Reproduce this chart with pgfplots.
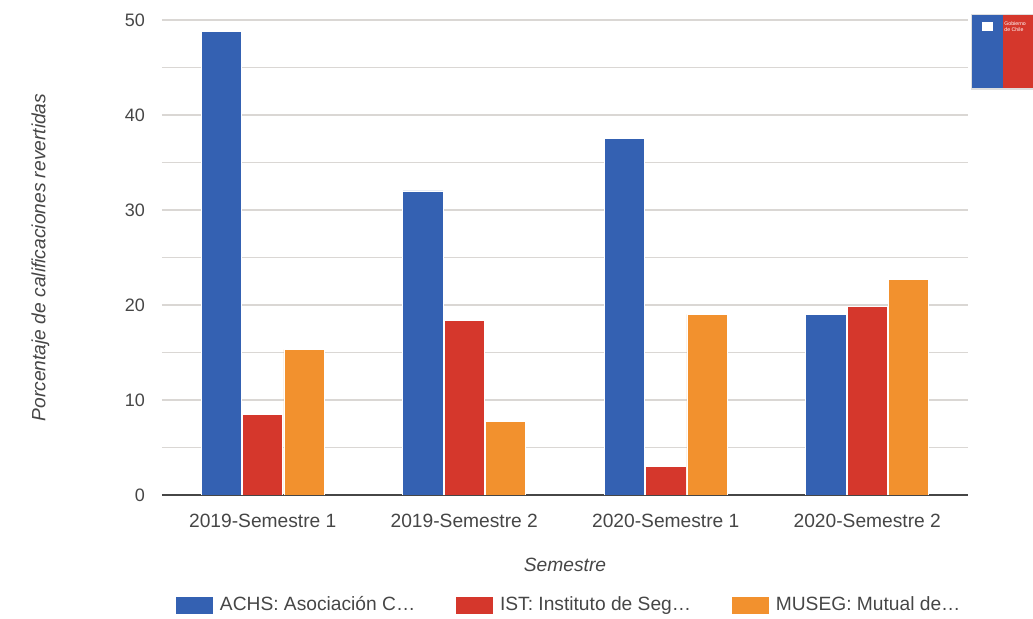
\documentclass[border=0pt]{standalone}
\usepackage{fontspec}
\setmainfont{Liberation Sans}
\usepackage{pgfplots}
\pgfplotsset{compat=1.18}

\definecolor{achs}{RGB}{52,97,178}
\definecolor{ist}{RGB}{213,55,44}
\definecolor{museg}{RGB}{242,145,46}
\definecolor{gridc}{RGB}{218,215,212}
\definecolor{txt}{RGB}{70,70,70}

\begin{document}
\begin{tikzpicture}
% frame of the whole picture (1033x619 px at 0.5pt per px)
\useasboundingbox (-81pt,-62pt) rectangle (435.5pt,247.5pt);
\begin{axis}[
    at={(0,0)}, anchor=south west,
    scale only axis,
    width=403pt, height=237.5pt,
    xmin=-0.5, xmax=3.5,
    ymin=0, ymax=50,
    xtick={0,1,2,3},
    xticklabels={2019-Semestre 1,2019-Semestre 2,2020-Semestre 1,2020-Semestre 2},
    ytick={0,10,20,30,40,50},
    minor ytick={5,15,25,35,45},
    ymajorgrids, yminorgrids,
    major grid style={gridc, line width=0.6pt},
    minor grid style={gridc, line width=0.6pt},
    major tick length=0pt, minor tick length=0pt,
    axis lines*=left,
    x axis line style={-, txt, line width=0.7pt},
    y axis line style={draw=none},
    /pgf/number format/assume math mode=true,
    tick label style={font=\fontsize{9.6}{11}\selectfont, txt},
    yticklabel style={xshift=-5pt, font=\fontsize{9}{11}\selectfont},
    xticklabel style={yshift=-6pt},
    xlabel={Semestre},
    ylabel={Porcentaje de calificaciones revertidas},
    label style={font=\fontsize{9.6}{11}\selectfont\itshape, txt},
    xlabel style={at={(axis description cs:0.5,-0.147)}, anchor=center},
    ylabel style={at={(axis description cs:-0.151,0.5)}, anchor=center},
    legend columns=3,
    legend style={at={(axis description cs:0.506,-0.2316)}, anchor=center,
        draw=none, fill=none, font=\fontsize{9.6}{11}\selectfont, text=txt,
        /tikz/every odd column/.append style={column sep=1pt},
        /tikz/every even column/.append style={column sep=18pt}},
    ybar, bar width=0.2,
    every axis plot/.append style={draw=white, line width=0.4pt,
        legend image code/.code={\fill (0pt,-4.5pt) rectangle (19pt,4.5pt);}},
]
\addplot[fill=achs, bar shift=-0.205] coordinates {(0,48.8) (1,32.0) (2,37.5) (3,19.05)};
\addplot[fill=ist, bar shift=0] coordinates {(0,8.5) (1,18.35) (2,3.05) (3,19.8)};
\addplot[fill=museg, bar shift=0.205] coordinates {(0,15.3) (1,7.7) (2,19.0) (3,22.7)};
\legend{ACHS: Asociación C…, IST: Instituto de Seg…, MUSEG: Mutual de…}
\end{axis}
% small logo in the top right corner
\fill[gray!25] (404.5pt,202.5pt) rectangle (436pt,240.5pt);
\fill[achs] (405pt,203.5pt) rectangle (420.5pt,240pt);
\fill[ist] (420.5pt,203.5pt) rectangle (435.5pt,240pt);
\node[white, font=\fontsize{2.6}{3}\selectfont, align=left, anchor=north west, inner sep=0pt]
    at (421pt,237pt) {Gobierno\\de Chile};
\fill[white] (410pt,232pt) rectangle (415.5pt,236.5pt);
\end{tikzpicture}
\end{document}
